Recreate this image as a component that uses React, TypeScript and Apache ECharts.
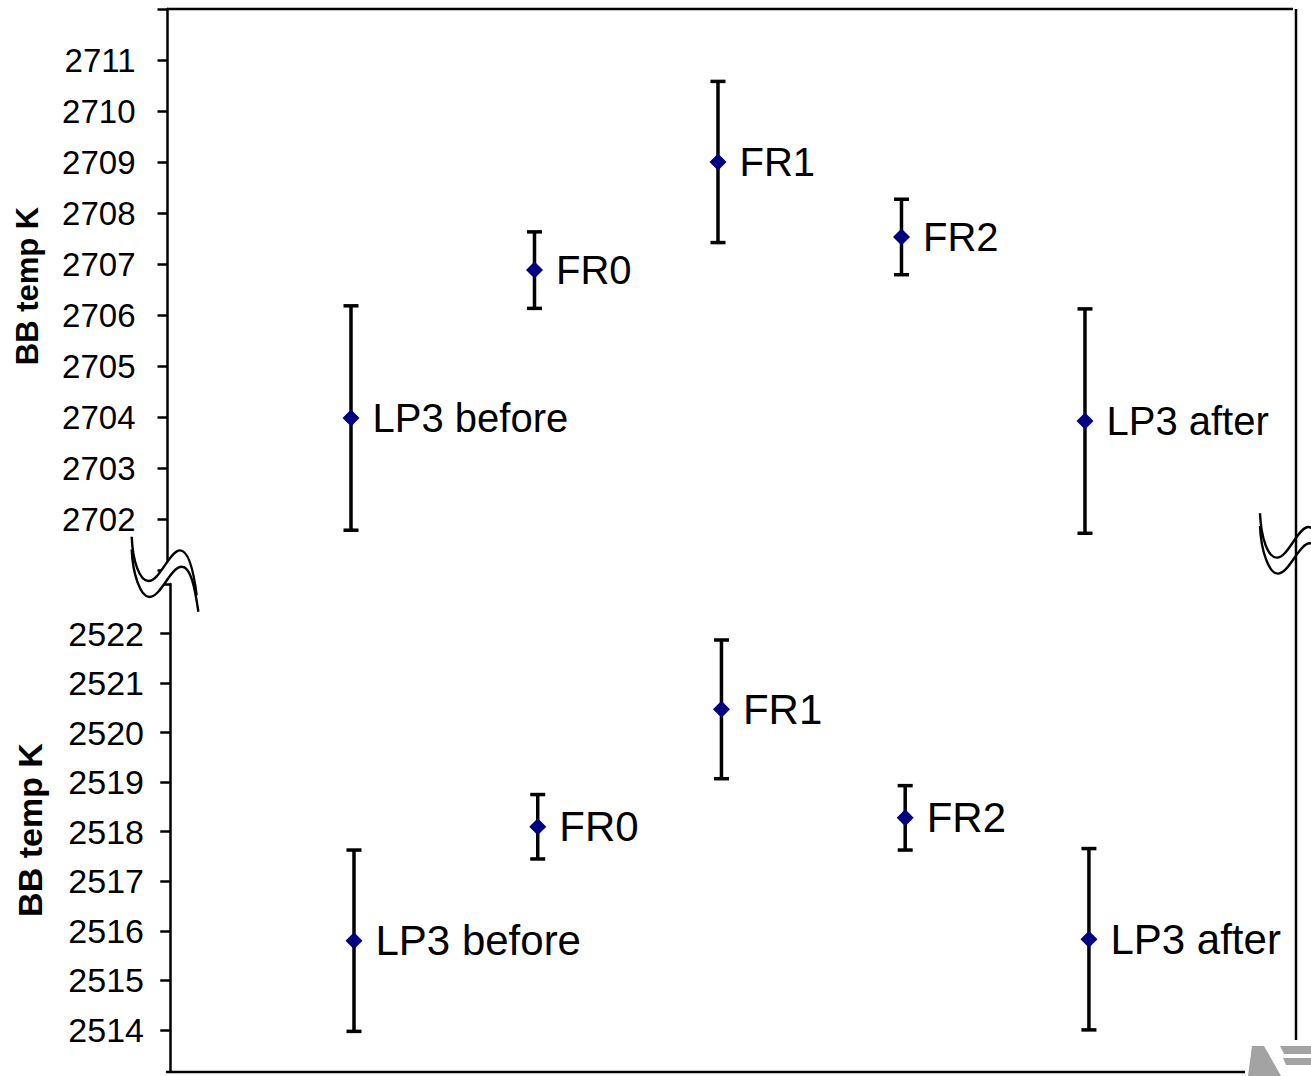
import React, { useEffect, useRef } from "react";
import * as echarts from "echarts";

const categories = ["LP3 before", "FR0", "FR1", "FR2", "LP3 after"];
const xSlots = [1, 2, 3, 4, 5];
const topValues = [2703.98, 2706.88, 2709.0, 2707.53, 2703.92];
const topErrors = [2.2, 0.75, 1.58, 0.74, 2.2];
const bottomValues = [2515.8, 2518.1, 2520.47, 2518.28, 2515.83];
const bottomErrors = [1.83, 0.65, 1.4, 0.65, 1.83];
const topTicks = [2701, 2702, 2703, 2704, 2705, 2706, 2707, 2708, 2709, 2710, 2711, 2712];
const topLabels = [2702, 2703, 2704, 2705, 2706, 2707, 2708, 2709, 2710, 2711];
const bottomTicks = [2514, 2515, 2516, 2517, 2518, 2519, 2520, 2521, 2522, 2523];
const bottomLabels = [2514, 2515, 2516, 2517, 2518, 2519, 2520, 2521, 2522];
const axisTitle = "BB temp K";

const FONT = "'Liberation Sans', Arial, Helvetica, sans-serif";

const curve1 = "M0,0 C1,25 8,44 16.7,44.3 C28,44.6 38,13.7 48.3,13.7 C57,13.7 62,35 65,58.7";
const curve2 = "M0,12.7 C1,38 9,60 17.7,60.3 C29,60.6 39,30 50,30 C59,30 63,50 66.7,75";
const curveFill =
  "M0,0 C1,25 8,44 16.7,44.3 C28,44.6 38,13.7 48.3,13.7 C57,13.7 62,35 65,58.7 L66.7,75 C63,50 59,30 50,30 C39,30 29,60.6 17.7,60.3 C9,60 1,38 0,12.7 Z";

echarts.graphic.registerShape("brkCurve1", echarts.graphic.extendPath(curve1, {}));
echarts.graphic.registerShape("brkCurve2", echarts.graphic.extendPath(curve2, {}));
echarts.graphic.registerShape("brkFill", echarts.graphic.extendPath(curveFill, {}));

function errorBarRender(params: any, api: any) {
  const x = api.value(0);
  const lo = api.value(1);
  const hi = api.value(2);
  const pHi = api.coord([x, hi]);
  const pLo = api.coord([x, lo]);
  const hw = 7.5;
  const st = { stroke: "#000", lineWidth: 3.5 };
  return {
    type: "group",
    children: [
      { type: "line", shape: { x1: pHi[0], y1: pHi[1], x2: pLo[0], y2: pLo[1] }, style: st },
      { type: "line", shape: { x1: pHi[0] - hw, y1: pHi[1], x2: pHi[0] + hw, y2: pHi[1] }, style: st },
      { type: "line", shape: { x1: pLo[0] - hw, y1: pLo[1], x2: pLo[0] + hw, y2: pLo[1] }, style: st },
    ],
  };
}

function yAxisCfg(gridIndex: number, min: number, max: number, ticks: number[], labels: number[], margin: number, fontSize: number) {
  return {
    gridIndex,
    type: "value",
    min,
    max,
    axisLine: { show: true, lineStyle: { color: "#000", width: 2.5 } },
    axisTick: { show: true, inside: false, length: 10, lineStyle: { color: "#000", width: 2.5 }, customValues: ticks },
    axisLabel: {
      customValues: labels,
      margin,
      fontSize,
      color: "#000",
      fontFamily: FONT,
      formatter: (v: number) => String(Math.round(v)),
    },
    splitLine: { show: false },
  };
}

function breakMark(x: number, y: number, fill: boolean) {
  const els: any[] = [];
  if (fill) {
    els.push({ type: "brkFill", x, y, z: 100, style: { fill: "#fff", stroke: null } });
  }
  els.push({ type: "brkCurve1", x, y, z: 101, style: { fill: null, stroke: "#000", lineWidth: 2.4 } });
  els.push({ type: "brkCurve2", x, y, z: 101, style: { fill: null, stroke: "#000", lineWidth: 2.4 } });
  return els;
}

export default function App() {
  const ref = useRef<HTMLDivElement>(null);
  useEffect(() => {
    document.body.style.margin = "0";
    const chart = echarts.init(ref.current!, null, { renderer: "svg" });
    const topBars = xSlots.map((x, i) => [x, topValues[i] - topErrors[i], topValues[i] + topErrors[i]]);
    const botBars = xSlots.map((x, i) => [x, bottomValues[i] - bottomErrors[i], bottomValues[i] + bottomErrors[i]]);
    const topPts = xSlots.map((x, i) => ({ value: [x, topValues[i]], name: categories[i] }));
    const botPts = xSlots.map((x, i) => ({ value: [x, bottomValues[i]], name: categories[i] }));
    const lineSt = { stroke: "#000", lineWidth: 2.5 };
    chart.setOption({
      animation: false,
      backgroundColor: "#fff",
      textStyle: { fontFamily: FONT, color: "#000" },
      grid: [
        { left: 167.5, top: 9, width: 1128.5, height: 561 },
        { left: 167, top: 584, width: 1129, height: 488 },
      ],
      xAxis: [
        { gridIndex: 0, type: "value", min: 0, max: 6.15, show: false },
        { gridIndex: 1, type: "value", min: -0.0177, max: 6.127, show: false },
      ],
      yAxis: [
        yAxisCfg(0, 2701, 2712, topTicks, topLabels, 32, 33),
        yAxisCfg(1, 2513.15, 2523, bottomTicks, bottomLabels, 23, 34),
      ],
      series: [
        {
          type: "custom",
          xAxisIndex: 0,
          yAxisIndex: 0,
          renderItem: errorBarRender,
          encode: { x: 0, y: [1, 2] },
          data: topBars,
          z: 2,
        },
        {
          type: "custom",
          xAxisIndex: 1,
          yAxisIndex: 1,
          renderItem: errorBarRender,
          encode: { x: 0, y: [1, 2] },
          data: botBars,
          z: 2,
        },
        {
          type: "scatter",
          xAxisIndex: 0,
          yAxisIndex: 0,
          symbol: "diamond",
          symbolSize: 17,
          itemStyle: { color: "#000080", opacity: 1 },
          label: { show: true, position: "right", distance: 13, formatter: "{b}", fontSize: 40, color: "#000", fontFamily: FONT },
          data: topPts,
          z: 3,
        },
        {
          type: "scatter",
          xAxisIndex: 1,
          yAxisIndex: 1,
          symbol: "diamond",
          symbolSize: 17,
          itemStyle: { color: "#000080", opacity: 1 },
          label: { show: true, position: "right", distance: 13, formatter: "{b}", fontSize: 42, color: "#000", fontFamily: FONT },
          data: botPts,
          z: 3,
        },
      ],
      graphic: [
        { type: "line", shape: { x1: 167, y1: 9, x2: 1293, y2: 9 }, style: lineSt },
        { type: "line", shape: { x1: 1296, y1: 9, x2: 1296, y2: 1040 }, style: lineSt, z: 102 },
        { type: "line", shape: { x1: 166, y1: 1072, x2: 1245, y2: 1072 }, style: lineSt },
        {
          type: "text",
          x: 27.5,
          y: 286,
          rotation: Math.PI / 2,
          style: { text: axisTitle, font: `bold 31px ${FONT}`, fill: "#000", align: "center", verticalAlign: "middle", textAlign: "center", textVerticalAlign: "middle" },
        },
        {
          type: "text",
          x: 29.5,
          y: 830,
          rotation: Math.PI / 2,
          style: { text: axisTitle, font: `bold 34px ${FONT}`, fill: "#000", align: "center", verticalAlign: "middle", textAlign: "center", textVerticalAlign: "middle" },
        },
        ...breakMark(131.7, 536.7, true),
        ...breakMark(1260, 513.3, false),
        { type: "polygon", shape: { points: [[1248, 1076], [1252, 1046], [1264, 1046], [1281, 1076]] }, style: { fill: "#a3a3a3" } },
        { type: "polygon", shape: { points: [[1280, 1046], [1311, 1046], [1311, 1054], [1284, 1054]] }, style: { fill: "#a3a3a3" } },
        { type: "polygon", shape: { points: [[1283, 1058], [1311, 1058], [1311, 1065], [1286, 1065]] }, style: { fill: "#a3a3a3" } },
      ],
    });
    return () => chart.dispose();
  }, []);
  return <div ref={ref} style={{ position: "absolute", left: 0, top: 0, width: 1311, height: 1076 }} />;
}
